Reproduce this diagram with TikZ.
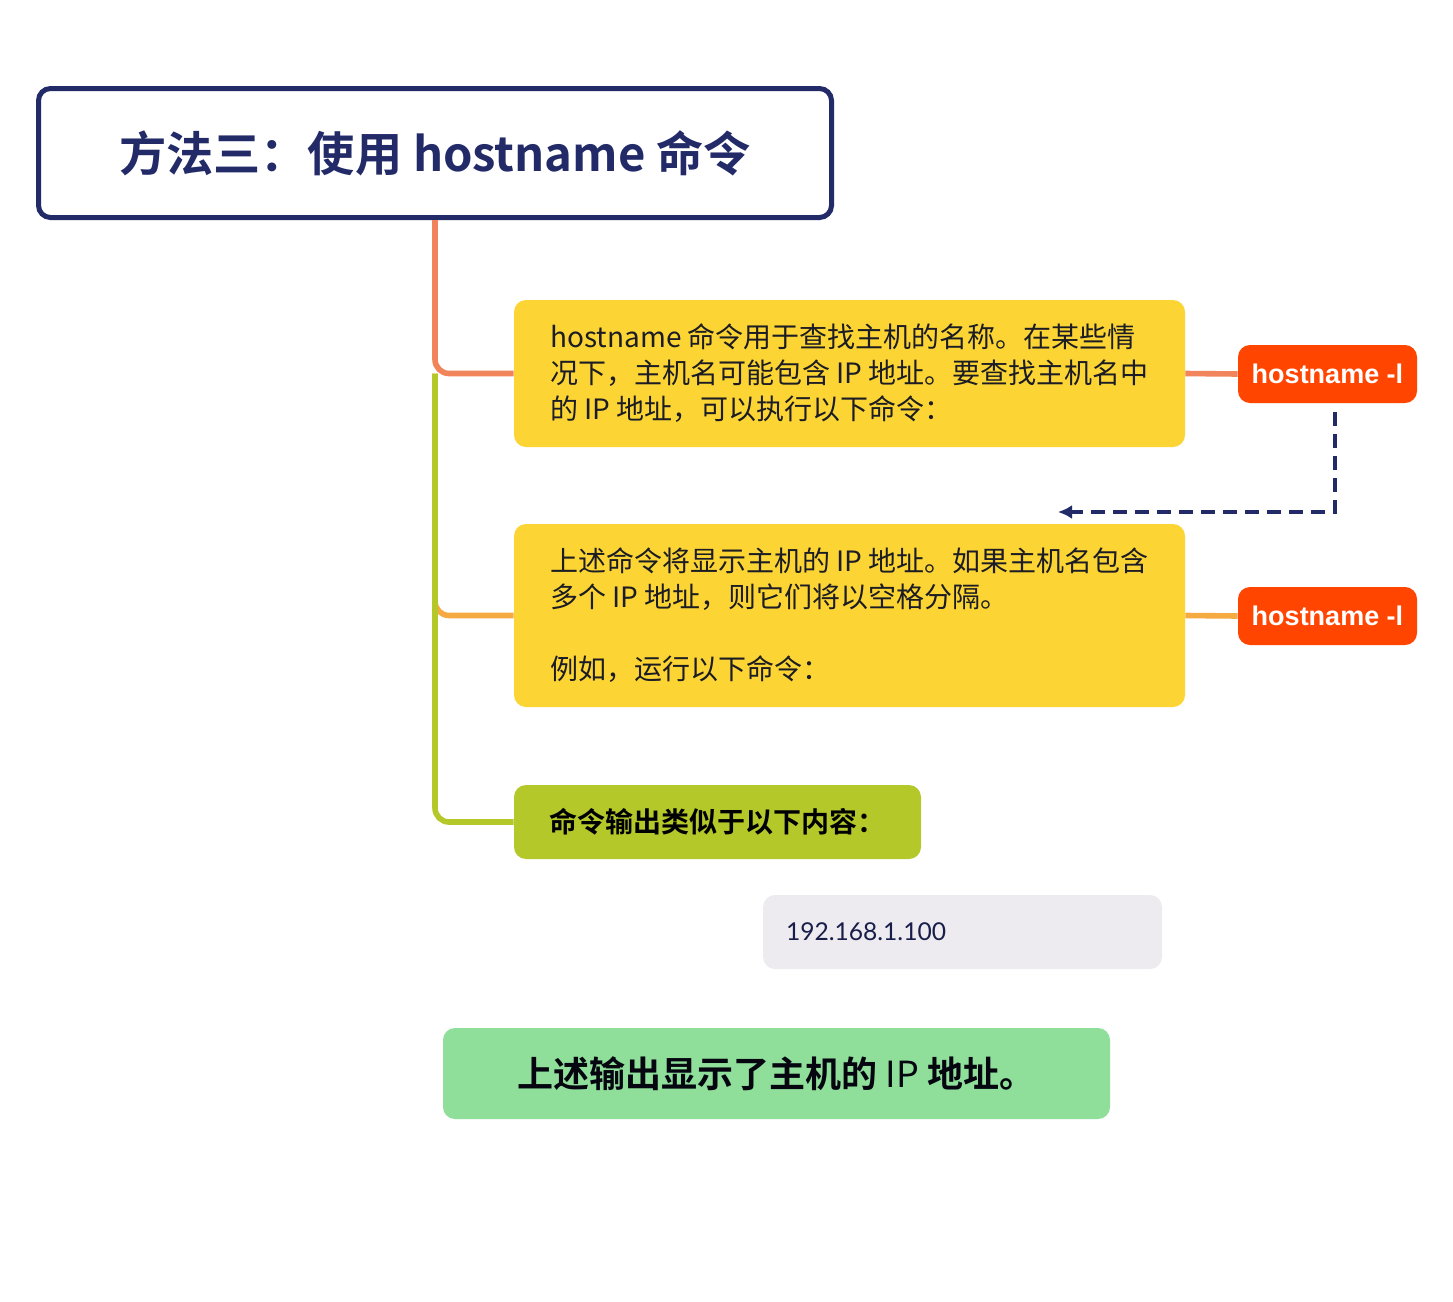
\documentclass[tikz,border=0pt]{standalone}
\usepackage{fontspec}
\setmainfont{Noto Sans CJK SC}[BoldFont={Noto Sans CJK SC Bold}]
\newfontfamily\latinfont{Lato}
\newfontfamily\tagfont{Liberation Sans Bold}
\usetikzlibrary{arrows.meta}
\definecolor{navy}{HTML}{232A68}
\definecolor{ybox}{HTML}{FCD535}
\definecolor{redbox}{HTML}{FF4500}
\definecolor{olive}{HTML}{B5C82A}
\definecolor{lgreen}{HTML}{8FDE9A}
\definecolor{grayb}{HTML}{EDEBEF}
\definecolor{orangeline}{HTML}{F2845C}
\definecolor{amberline}{HTML}{F5AA42}
\definecolor{bodytxt}{HTML}{1C1C24}
\tikzset{
  card/.style={rounded corners=6pt, inner sep=0pt, align=left},
  yellowcard/.style={card, fill=ybox, text=bodytxt, minimum width=335.5pt, font=\fontsize{14}{18}\selectfont},
  redtag/.style={card, fill=redbox, text=white, minimum width=89.5pt, minimum height=29pt, font=\tagfont\fontsize{13.5}{16}\selectfont},
  branch/.style={line width=2.8pt, rounded corners=7pt},
}
\begin{document}
\begin{tikzpicture}[x=0.5pt,y=-0.5pt]
\useasboundingbox[fill=white] (0,0) rectangle (1453,1302);
% title
\node[draw=navy, line width=2.5pt, rounded corners=6pt, fill=white, minimum width=396.5pt, minimum height=64.5pt, inner sep=0pt, text=navy, font=\bfseries\fontsize{23.6}{28}\selectfont] (title) at (435,153) {方法三：使用 hostname 命令};
% yellow cards
\node[yellowcard, minimum height=73.5pt] (box1) at (849.5,373.5) {hostname 命令用于查找主机的名称。在某些情\\况下，主机名可能包含 IP 地址。要查找主机名中\\的 IP 地址，可以执行以下命令：};
\node[yellowcard, minimum height=91.5pt] (box2) at (849.5,615.5) {上述命令将显示主机的 IP 地址。如果主机名包含\\多个 IP 地址，则它们将以空格分隔。\\[18pt]例如，运行以下命令：};
% red tags
\node[redtag] (red1) at (1327.5,374) {hostname -l};
\node[redtag] (red2) at (1327.5,616) {hostname -l};
% olive card
\node[card, fill=olive, text=black, minimum width=203.5pt, minimum height=37pt, font=\bfseries\fontsize{14}{16}\selectfont] (box3) at (717.5,822) {命令输出类似于以下内容：};
% gray output
\node[card, fill=grayb, text=navy!70!black, minimum height=37pt, text width=176.5pt, inner xsep=11.5pt, font=\latinfont\fontsize{12.3}{15}\selectfont] (out) at (962.5,932) {192.168.1.100};
% green conclusion
\node[card, fill=lgreen, text=black!85!navy, minimum width=333.5pt, minimum height=45.5pt, font=\bfseries\fontsize{18}{22}\selectfont] (concl) at (776.5,1073.5) {上述输出显示了主机的 {\mdseries IP} 地址。};
% branches
\coordinate (fork) at (title.south |- box1.west);
\draw[branch, amberline] (fork) |- (box2.west);
\draw[branch, olive] (fork) |- (box3.west);
\draw[branch, orangeline] (title.south) |- (box1.west);
\draw[line width=2.8pt, orangeline] (box1.east) -- (red1.west);
\draw[line width=2.8pt, amberline] (box2.east) -- (red2.west);
% dashed arrow
\coordinate (dashend) at (1058,512);
\draw[navy, line width=2.3pt, dash pattern=on 7pt off 4pt, shorten <=4.5pt, -{Latex[length=7pt,width=7pt]}] ([xshift=3.75pt]red1.south) |- (dashend);
\end{tikzpicture}
\end{document}
